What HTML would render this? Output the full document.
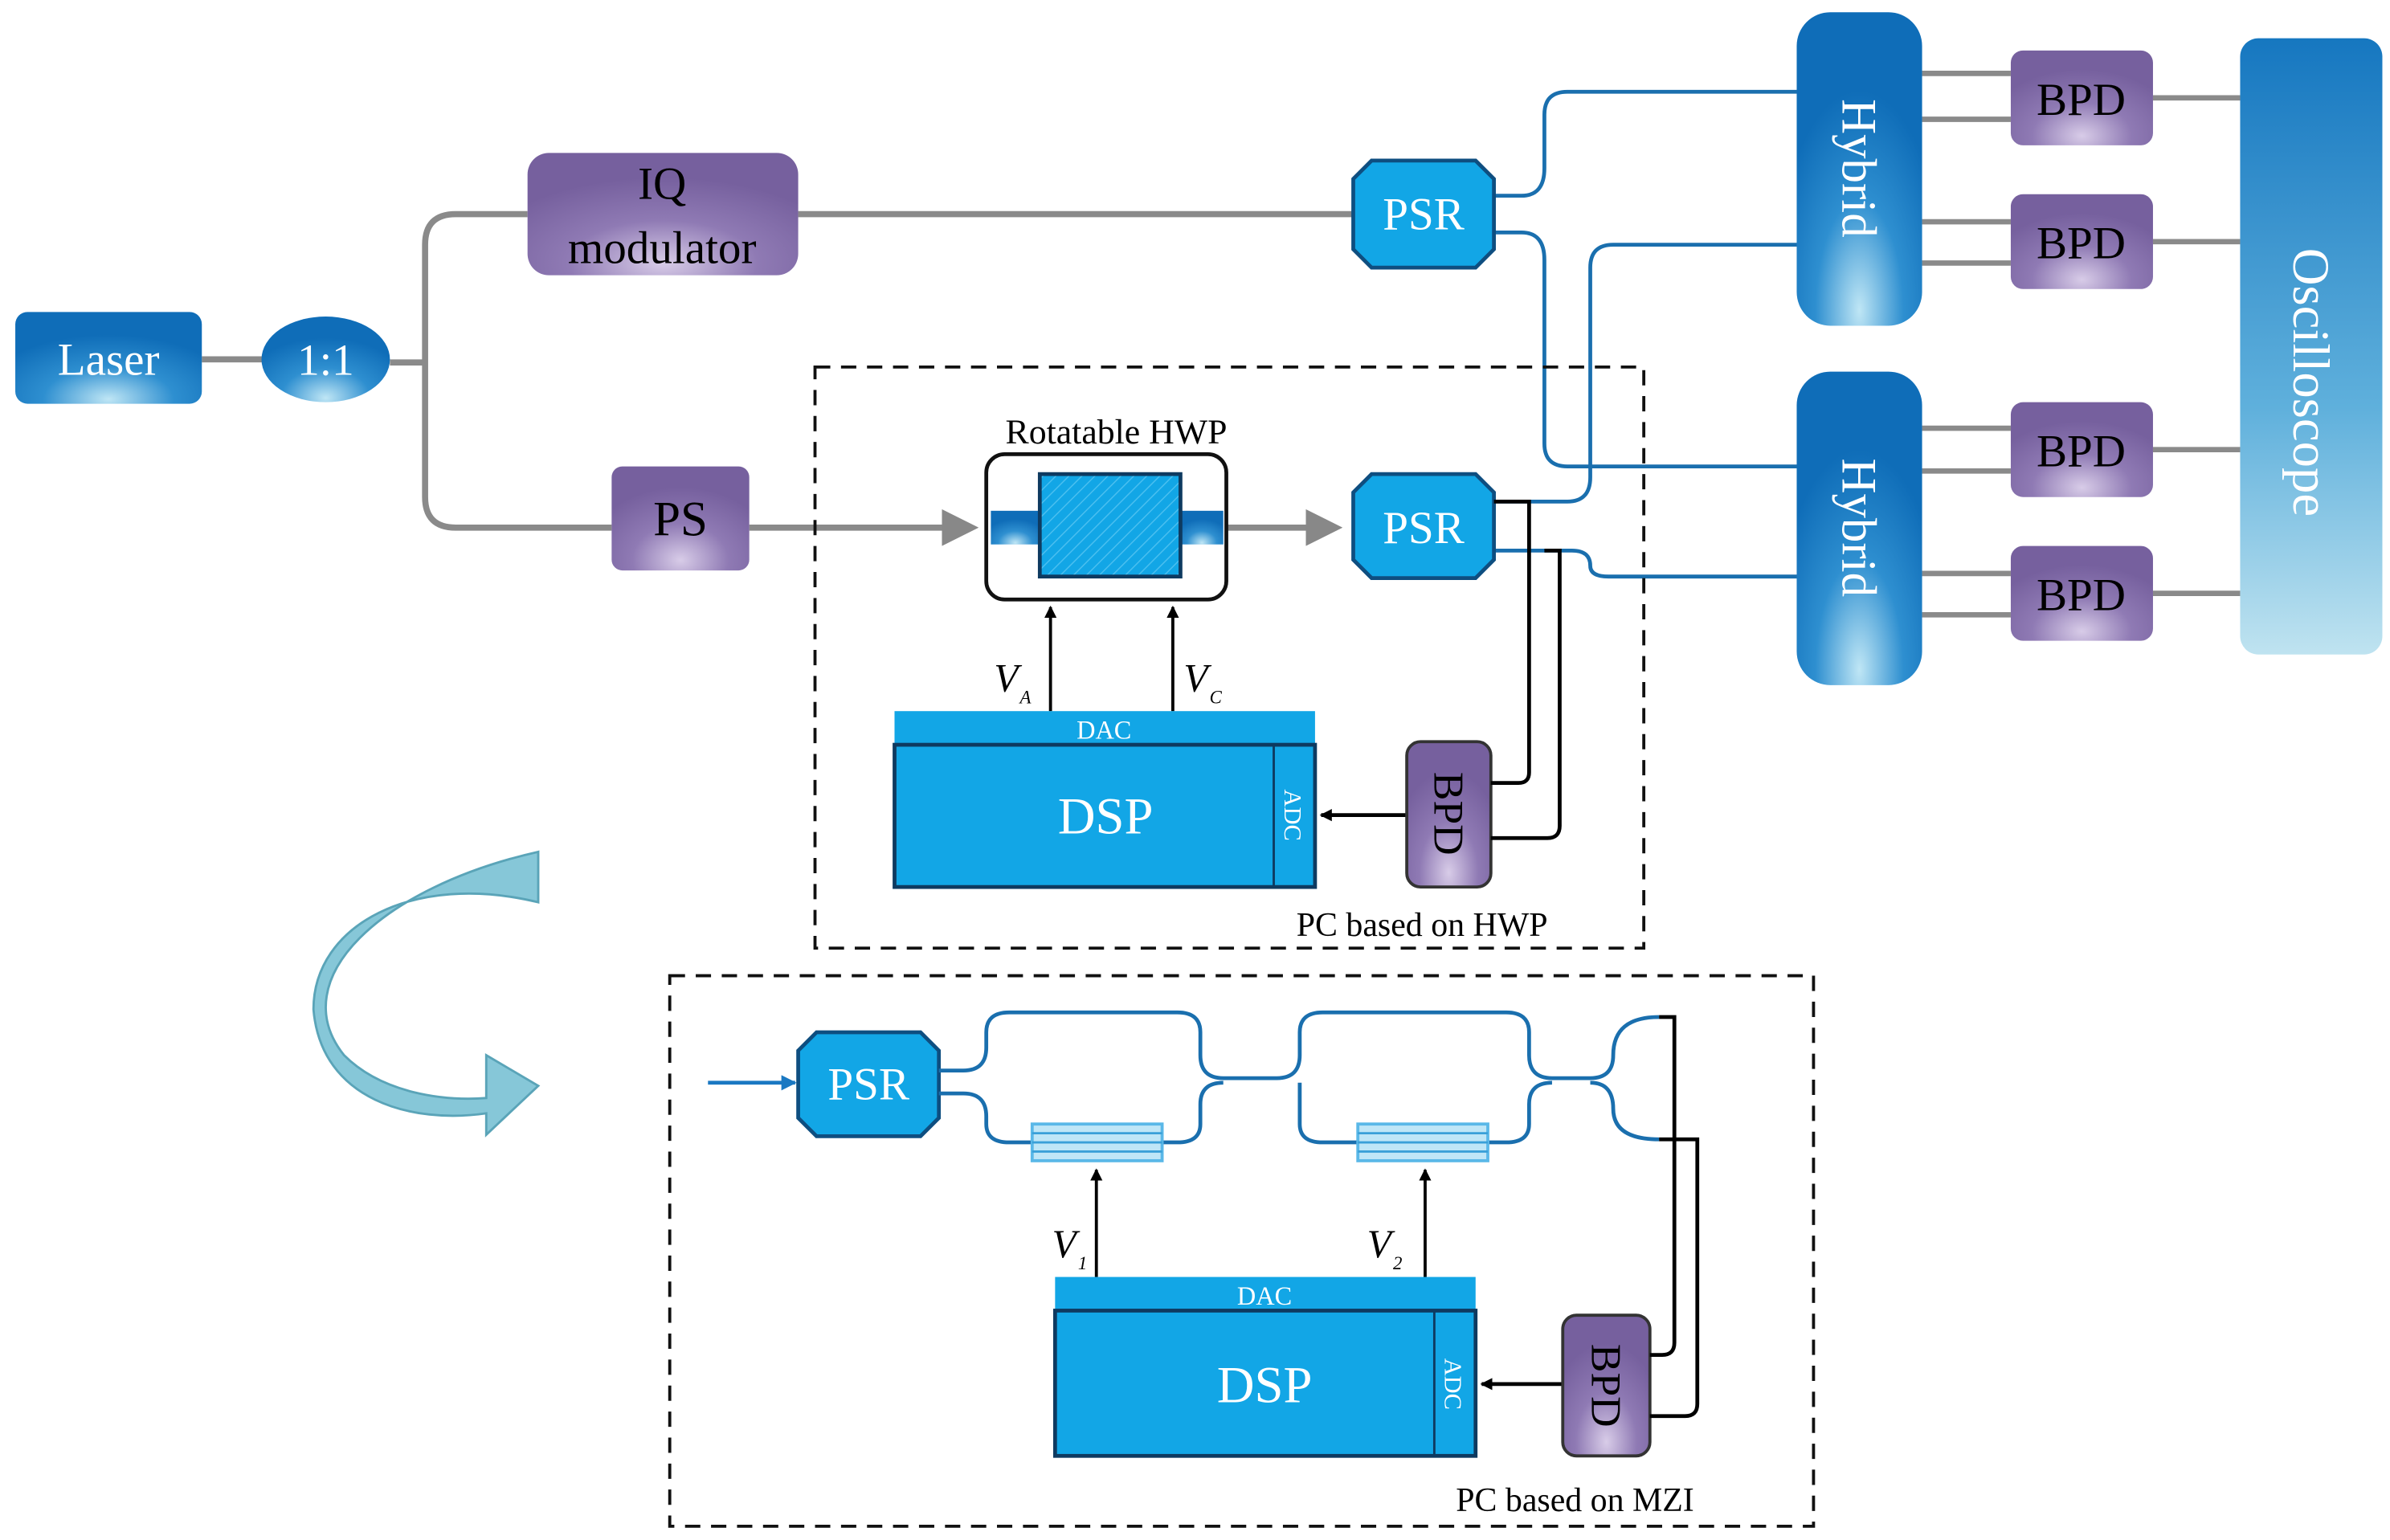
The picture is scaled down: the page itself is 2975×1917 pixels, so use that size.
<!DOCTYPE html>
<html><head><meta charset="utf-8"><style>html,body{margin:0;padding:0;background:#fff}svg{display:block}</style></head><body>
<svg width="2975" height="1917" viewBox="0 0 1563 1007" preserveAspectRatio="none" xmlns="http://www.w3.org/2000/svg" font-family="Liberation Serif, serif">
<defs>
<radialGradient id="bl" cx="0.5" cy="0.95" r="0.7"><stop offset="0" stop-color="#bfe6f5"/><stop offset="0.5" stop-color="#2e8fd0"/><stop offset="1" stop-color="#0f6db8"/></radialGradient>
<radialGradient id="pu" cx="0.5" cy="0.9" r="0.7"><stop offset="0" stop-color="#d8cce8"/><stop offset="0.5" stop-color="#8f7ab4"/><stop offset="1" stop-color="#76609e"/></radialGradient>
<linearGradient id="osc" x1="0" y1="0" x2="0" y2="1"><stop offset="0" stop-color="#1677c0"/><stop offset="0.6" stop-color="#5fb0dc"/><stop offset="1" stop-color="#bfe3f0"/></linearGradient>
<pattern id="hatch" width="6" height="6" patternUnits="userSpaceOnUse" patternTransform="rotate(45)"><rect width="6" height="6" fill="#12a6e6"/><line x1="0" y1="0" x2="0" y2="6" stroke="#4cc0f0" stroke-width="1.5"/></pattern>
<marker id="ga" markerWidth="6" markerHeight="6" refX="5" refY="3" orient="auto" markerUnits="strokeWidth"><path d="M0,0 L6,3 L0,6z" fill="#888"/></marker>
<marker id="ka" markerWidth="8" markerHeight="8" refX="7" refY="4" orient="auto" markerUnits="userSpaceOnUse"><path d="M0,0 L8,4 L0,8z" fill="#000"/></marker>
<marker id="ba" markerWidth="10" markerHeight="10" refX="9" refY="5" orient="auto" markerUnits="userSpaceOnUse"><path d="M0,0 L10,5 L0,10z" fill="#1a78c2"/></marker>
</defs>

<!-- gray fiber -->
<g stroke="#8a8a8a" stroke-width="4" fill="none">
<line x1="132" y1="235" x2="175" y2="235"/>
<line x1="255" y1="237" x2="278" y2="237"/>
<path d="M345,140 H298 Q278,140 278,160 V325 Q278,345 298,345 H400"/>
<line x1="522" y1="140" x2="887" y2="140"/>
<line x1="490" y1="345" x2="636" y2="345" marker-end="url(#ga)"/>
<line x1="802" y1="345" x2="874" y2="345" marker-end="url(#ga)"/>
<g stroke-width="3.5">
<line x1="1257" y1="48" x2="1315" y2="48"/><line x1="1257" y1="78" x2="1315" y2="78"/>
<line x1="1257" y1="145" x2="1315" y2="145"/><line x1="1257" y1="172" x2="1315" y2="172"/>
<line x1="1257" y1="280" x2="1315" y2="280"/><line x1="1257" y1="308" x2="1315" y2="308"/>
<line x1="1257" y1="375" x2="1315" y2="375"/><line x1="1257" y1="402" x2="1315" y2="402"/>
<line x1="1408" y1="64" x2="1465" y2="64"/><line x1="1408" y1="158" x2="1465" y2="158"/>
<line x1="1408" y1="294" x2="1465" y2="294"/><line x1="1408" y1="388" x2="1465" y2="388"/>
</g>
</g>

<!-- blue fibers -->
<g stroke="#1a6fae" stroke-width="2.5" fill="none">
<path d="M977,128 H995 Q1010,128 1010,110 V75 Q1010,60 1025,60 H1175"/>
<path d="M977,152 H995 Q1010,152 1010,170 V290 Q1010,305 1025,305 H1175"/>
<path d="M977,328 H1025 Q1040,328 1040,312 V175 Q1040,160 1055,160 H1175"/>
<path d="M977,360 H1028 Q1040,360 1040,370 Q1040,377 1052,377 H1175"/>
</g>

<!-- dashed boxes -->
<rect x="533" y="240" width="542" height="380" fill="none" stroke="#111" stroke-width="2" stroke-dasharray="10,7"/>
<rect x="438" y="638" width="748" height="360" fill="none" stroke="#111" stroke-width="2" stroke-dasharray="10,7"/>

<!-- Laser, splitter -->
<rect x="10" y="204" width="122" height="60" rx="8" fill="url(#bl)"/>
<text x="71" y="245" font-size="30" fill="#fff" text-anchor="middle">Laser</text>
<ellipse cx="213" cy="235" rx="42" ry="28" fill="url(#bl)"/>
<text x="213" y="245" font-size="29" fill="#fff" text-anchor="middle">1:1</text>

<!-- IQ, PS -->
<rect x="345" y="100" width="177" height="80" rx="14" fill="url(#pu)"/>
<text x="433" y="130" font-size="30" text-anchor="middle">IQ</text>
<text x="433" y="172" font-size="30" text-anchor="middle">modulator</text>
<rect x="400" y="305" width="90" height="68" rx="7" fill="url(#pu)"/>
<text x="445" y="350" font-size="32" text-anchor="middle">PS</text>

<!-- PSRs -->
<path d="M897,105 H965 L977,117 V163 L965,175 H897 L885,163 V117z" fill="#12a6e6" stroke="#0e4e80" stroke-width="2.5"/>
<text x="931" y="150" font-size="30" fill="#fff" text-anchor="middle">PSR</text>
<path d="M897,310 H965 L977,322 V366 L965,378 H897 L885,366 V322z" fill="#12a6e6" stroke="#0e4e80" stroke-width="2.5"/>
<text x="931" y="355" font-size="30" fill="#fff" text-anchor="middle">PSR</text>

<!-- HWP -->
<text x="730" y="290" font-size="23" text-anchor="middle">Rotatable HWP</text>
<rect x="645" y="297" width="157" height="95" rx="12" fill="#fff" stroke="#111" stroke-width="2.5"/>
<rect x="648" y="334" width="32" height="22" fill="url(#bl)"/>
<rect x="772" y="334" width="28" height="22" fill="url(#bl)"/>
<rect x="680" y="310" width="92" height="67" fill="url(#hatch)" stroke="#0e3a60" stroke-width="2.5"/>
<line x1="687" y1="465" x2="687" y2="397" stroke="#000" stroke-width="2" marker-end="url(#ka)"/>
<line x1="767" y1="465" x2="767" y2="397" stroke="#000" stroke-width="2" marker-end="url(#ka)"/>
<text x="650" y="452" font-size="26" font-style="italic">V</text><text x="667" y="460" font-size="12" font-style="italic">A</text>
<text x="774" y="452" font-size="26" font-style="italic">V</text><text x="791" y="460" font-size="12" font-style="italic">C</text>

<!-- DSP 1 -->
<rect x="585" y="465" width="275" height="22" fill="#12a6e6"/>
<text x="722" y="483" font-size="17" fill="#fff" text-anchor="middle">DAC</text>
<rect x="585" y="487" width="275" height="93" fill="#12a6e6" stroke="#0e3a60" stroke-width="2.5"/>
<line x1="833" y1="487" x2="833" y2="580" stroke="#0e3a60" stroke-width="1.5"/>
<text x="723" y="545" font-size="34" fill="#fff" text-anchor="middle">DSP</text>
<text transform="translate(840,533) rotate(90)" font-size="16" fill="#fff" text-anchor="middle">ADC</text>
<line x1="920" y1="533" x2="864" y2="533" stroke="#000" stroke-width="2.5" marker-end="url(#ka)"/>
<rect x="920" y="485" width="55" height="95" rx="9" fill="url(#pu)" stroke="#333" stroke-width="2"/>
<text transform="translate(938,532) rotate(90)" font-size="28" text-anchor="middle">BPD</text>
<g stroke="#000" stroke-width="2.5" fill="none">
<path d="M977,328 H1000 V505 Q1000,512 993,512 H975"/>
<path d="M1010,360 H1020 V540 Q1020,548 1012,548 H975"/>
</g>
<text x="930" y="612" font-size="22" text-anchor="middle">PC based on HWP</text>

<!-- Hybrids -->
<rect x="1175" y="8" width="82" height="205" rx="22" fill="url(#bl)"/>
<text transform="translate(1205,110) rotate(90)" font-size="32" fill="#fff" text-anchor="middle">Hybrid</text>
<rect x="1175" y="243" width="82" height="205" rx="22" fill="url(#bl)"/>
<text transform="translate(1205,345) rotate(90)" font-size="32" fill="#fff" text-anchor="middle">Hybrid</text>

<!-- BPDs right -->
<g fill="url(#pu)">
<rect x="1315" y="33" width="93" height="62" rx="8"/><rect x="1315" y="127" width="93" height="62" rx="8"/>
<rect x="1315" y="263" width="93" height="62" rx="8"/><rect x="1315" y="357" width="93" height="62" rx="8"/>
</g>
<g font-size="30" text-anchor="middle">
<text x="1361" y="75">BPD</text><text x="1361" y="169">BPD</text><text x="1361" y="305">BPD</text><text x="1361" y="399">BPD</text>
</g>
<rect x="1465" y="25" width="93" height="403" rx="12" fill="url(#osc)"/>
<text transform="translate(1500,250) rotate(90)" font-size="34" fill="#fff" text-anchor="middle">Oscilloscope</text>

<!-- curved arrow -->
<path d="M352,557 C250,580 185,640 225,690 C250,715 290,720 318,718 L318,690 L352,710 L318,742 L318,728 C270,735 210,720 205,660 C205,605 270,570 352,590z" fill="#86c7d8" stroke="#5aa4b8" stroke-width="1.5"/>

<!-- MZI section -->
<line x1="463" y1="708" x2="520" y2="708" stroke="#1a78c2" stroke-width="2.5" marker-end="url(#ba)"/>
<path d="M534,675 H602 L614,687 V731 L602,743 H534 L522,731 V687z" fill="#12a6e6" stroke="#0e4e80" stroke-width="2.5"/>
<text x="568" y="719" font-size="30" fill="#fff" text-anchor="middle">PSR</text>
<g stroke="#1a6fae" stroke-width="2.5" fill="none">
<path d="M614,700 H630 Q645,700 645,685 V675 Q645,662 660,662 H770 Q785,662 785,675 V690 Q785,705 800,705 H835 Q850,705 850,690 V675 Q850,662 865,662 H985 Q1000,662 1000,675 V690 Q1000,705 1015,705 H1040 Q1055,705 1055,690 Q1055,665 1085,665"/>
<path d="M614,715 H630 Q645,715 645,730 V735 Q645,747 660,747 H770 Q785,747 785,735 V722 Q785,708 800,708"/>
<path d="M850,708 Q850,722 850,735 Q850,747 865,747 H985 Q1000,747 1000,735 V722 Q1000,708 1015,708"/>
<path d="M1040,708 Q1055,708 1055,725 Q1055,745 1085,745"/>
</g>
<g stroke="#5ab8e8" stroke-width="2" fill="#bfe6f7">
<rect x="675" y="735" width="85" height="24"/><rect x="888" y="735" width="85" height="24"/>
</g>
<g stroke="#3aa0d8" stroke-width="1.5">
<line x1="675" y1="741" x2="760" y2="741"/><line x1="675" y1="747" x2="760" y2="747"/><line x1="675" y1="753" x2="760" y2="753"/>
<line x1="888" y1="741" x2="973" y2="741"/><line x1="888" y1="747" x2="973" y2="747"/><line x1="888" y1="753" x2="973" y2="753"/>
</g>
<line x1="717" y1="835" x2="717" y2="765" stroke="#000" stroke-width="2" marker-end="url(#ka)"/>
<line x1="932" y1="835" x2="932" y2="765" stroke="#000" stroke-width="2" marker-end="url(#ka)"/>
<text x="688" y="822" font-size="26" font-style="italic">V</text><text x="705" y="830" font-size="12" font-style="italic">1</text>
<text x="894" y="822" font-size="26" font-style="italic">V</text><text x="911" y="830" font-size="12" font-style="italic">2</text>
<rect x="690" y="835" width="275" height="22" fill="#12a6e6"/>
<text x="827" y="853" font-size="17" fill="#fff" text-anchor="middle">DAC</text>
<rect x="690" y="857" width="275" height="95" fill="#12a6e6" stroke="#0e3a60" stroke-width="2.5"/>
<line x1="938" y1="857" x2="938" y2="952" stroke="#0e3a60" stroke-width="1.5"/>
<text x="827" y="917" font-size="34" fill="#fff" text-anchor="middle">DSP</text>
<text transform="translate(945,905) rotate(90)" font-size="16" fill="#fff" text-anchor="middle">ADC</text>
<line x1="1022" y1="905" x2="969" y2="905" stroke="#000" stroke-width="2.5" marker-end="url(#ka)"/>
<rect x="1022" y="860" width="57" height="92" rx="9" fill="url(#pu)" stroke="#333" stroke-width="2"/>
<text transform="translate(1041,906) rotate(90)" font-size="28" text-anchor="middle">BPD</text>
<g stroke="#000" stroke-width="2.5" fill="none">
<path d="M1085,665 H1095 V878 Q1095,886 1087,886 H1079"/>
<path d="M1085,745 H1110 V918 Q1110,926 1102,926 H1079"/>
</g>
<text x="1030" y="988" font-size="22" text-anchor="middle">PC based on MZI</text>
</svg>
</body></html>
